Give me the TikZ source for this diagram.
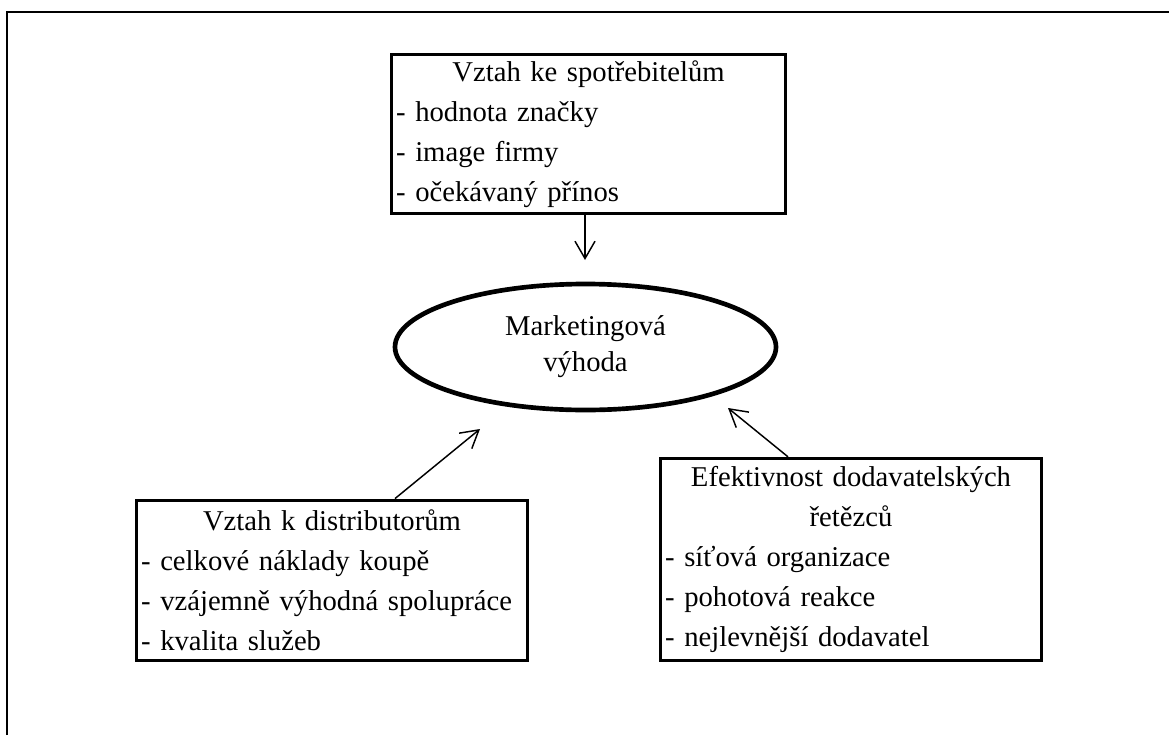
\documentclass[tikz,border=0pt]{standalone}
\usepackage{fontspec}
\setmainfont{Liberation Serif}
\usetikzlibrary{shapes,arrows.meta,positioning,calc}
\setlength{\parindent}{0pt}

\begin{document}
\begin{tikzpicture}[x=0.75pt, y=-0.75pt,
        block/.style={rectangle, draw, line width=2.5pt, inner xsep=3.5pt, inner ysep=0pt, align=left, font=\fontsize{21.5}{30}\selectfont},
        oval/.style={ellipse, draw, line width=3.5pt, inner sep=0pt, minimum width=285.75pt, minimum height=94.5pt, align=center, font=\fontsize{21.5}{27}\selectfont},
        arr/.style={-{Straight Barb[length=13pt,width=15pt]}, line width=1.1pt}]

    \useasboundingbox (0,0) rectangle (1169,735);
    \draw[line width=1.5pt] (7,735) -- (7,12) -- (1169,12);

    \node[block, text width=288.5pt, minimum height=119.25pt] (cons) at (588.5,134) {{\centering Vztah ke spotřebitelům\par}- hodnota značky\\- image firmy\\- očekávaný přínos};
    \node[oval] (mkt) at (585.5,347) {Marketingová\\výhoda};
    \node[block, text width=286.25pt, minimum height=120.4pt] (dist) at (332,580.5) {{\centering Vztah k distributorům\par}- celkové náklady koupě\\- vzájemně výhodná spolupráce\\- kvalita služeb};
    \node[block, text width=278.75pt, minimum height=151.5pt] (supply) at (851,559.5) {{\centering Efektivnost dodavatelských\\řetězců\par}- síťová organizace\\- pohotová reakce\\- nejlevnější dodavatel};

    \coordinate (tipT) at (585,260);
    \coordinate (tipL) at (480,429);
    \coordinate (tipR) at (728,408);
    \draw[arr] (cons.south -| tipT) -- (tipT);
    \draw[arr] ($(dist.north)+(63,0)$) -- (tipL);
    \draw[arr] ($(supply.north)+(-63,0)$) -- (tipR);

\end{tikzpicture}
\end{document}
